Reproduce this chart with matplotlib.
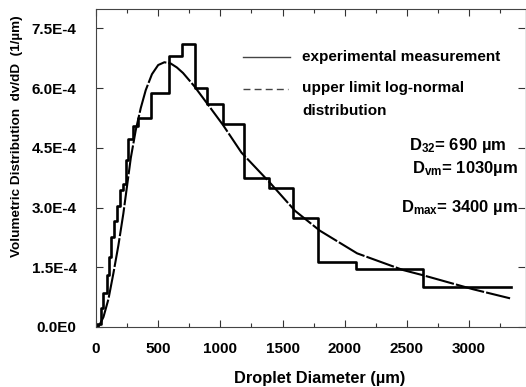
import numpy as np
import matplotlib
matplotlib.use('Agg')
import matplotlib.pyplot as plt
from matplotlib.ticker import MultipleLocator

plt.rcParams['font.family'] = ['Liberation Sans', 'DejaVu Sans']
plt.rcParams['font.weight'] = 'bold'
plt.rcParams['mathtext.fontset'] = 'custom'
plt.rcParams['mathtext.rm'] = 'Liberation Sans:bold'
plt.rcParams['mathtext.default'] = 'rm'

W, H = 526, 387

# experimental histogram (bin edges in um, heights in 1e-4 / um)
edges = [10, 38, 59, 86, 105, 118, 145, 166, 193, 220, 241, 260, 295, 335, 440,
         590, 690, 795, 890, 1022, 1193, 1394, 1588, 1788, 2089, 2628, 3336]
heights = [0.08, 0.47, 0.85, 1.31, 1.77, 2.27, 2.65, 3.03, 3.45, 3.6, 4.2, 4.71,
           5.06, 5.25, 5.87, 6.80, 7.12, 6.01, 5.61, 5.11, 3.74, 3.49, 2.74,
           1.64, 1.45, 1.0]

# upper limit log-normal fit
d_fit = [20, 60, 100, 140, 180, 220, 250, 280, 320, 360, 400, 450, 500, 550,
         600, 650, 700, 790, 890, 1020, 1170, 1400, 1600, 1800, 2100, 2470,
         2630, 3030, 3330]
v_fit = [0.0, 0.25, 0.7, 1.35, 2.05, 2.85, 3.55, 4.25, 4.95, 5.5, 5.95, 6.35,
         6.58, 6.65, 6.62, 6.52, 6.38, 6.05, 5.63, 5.08, 4.38, 3.62, 2.92,
         2.42, 1.85, 1.43, 1.3, 0.95, 0.72]

xticks = [0, 500, 1000, 1500, 2000, 2500, 3000]
yticks = [0.0, 1.5e-4, 3.0e-4, 4.5e-4, 6.0e-4, 7.5e-4]
ytick_labels = ['0.0E0', '1.5E-4', '3.0E-4', '4.5E-4', '6.0E-4', '7.5E-4']

fig = plt.figure(figsize=(W / 100, H / 100), dpi=100)
ax = fig.add_axes([96 / W, 60 / H, 429 / W, 318.5 / H])

xs = [edges[0]] + edges
ys = [0.0] + heights + [heights[-1]]
ax.step(xs, np.array(ys) * 1e-4, where='post', color='black', lw=1.9)
ax.plot(d_fit, np.array(v_fit) * 1e-4, color='black', lw=1.5, ls=(0, (14, 1)))

ax.set_xlim(0, 3450)
ax.set_ylim(0, 8.0e-4)
ax.set_xticks(xticks)
ax.set_xticklabels([str(v) for v in xticks])
ax.xaxis.set_minor_locator(MultipleLocator(250))
ax.set_yticks(yticks)
ax.set_yticklabels(ytick_labels)

ax.tick_params(axis='both', which='both', direction='in', top=True, right=True,
               labelsize=11, color='#333333')
ax.tick_params(axis='x', which='major', length=5, width=0.8, pad=10.5)
ax.tick_params(axis='x', which='minor', length=3, width=0.8)
ax.tick_params(axis='y', which='major', length=5, width=0.8, pad=14)
for side in ['left', 'bottom', 'top']:
    ax.spines[side].set_linewidth(0.8)
    ax.spines[side].set_color('#444444')
ax.spines['right'].set_color('#e0e0e0')
ax.spines['right'].set_linewidth(0.6)


def px(x, y):
    return x / W, 1 - y / H


# legend drawn by hand
fig.add_artist(plt.Line2D([243 / W, 290 / W], [1 - 57 / H, 1 - 57 / H],
                          color='#444444', lw=1.0))
fig.add_artist(plt.Line2D([243 / W, 288 / W], [1 - 89 / H, 1 - 89 / H],
                          color='#444444', lw=1.0, ls=(0, (5, 3))))
fig.text(*px(302, 57), 'experimental measurement', fontsize=11, va='center')
fig.text(*px(302, 88), 'upper limit log-normal', fontsize=11, va='center')
fig.text(*px(302, 111), 'distribution', fontsize=11, va='center')

fig.text(*px(507, 150), r'D$_{\mathrm{32}}$= 690 µm', fontsize=12,
         ha='right', va='baseline')
fig.text(*px(518, 173), r'D$_{\mathrm{vm}}$= 1030µm', fontsize=12,
         ha='right', va='baseline')
fig.text(*px(518, 212), r'D$_{\mathrm{max}}$= 3400 µm', fontsize=12,
         ha='right', va='baseline')

fig.text(*px(320, 378), 'Droplet Diameter (µm)', fontsize=11.8,
         ha='center', va='center')
fig.text(*px(17, 136), 'Volumetric Distribution  dv/dD  (1/µm)', fontsize=9.7,
         ha='center', va='center', rotation=90)

fig.savefig('out.png', dpi=100, facecolor='white')
